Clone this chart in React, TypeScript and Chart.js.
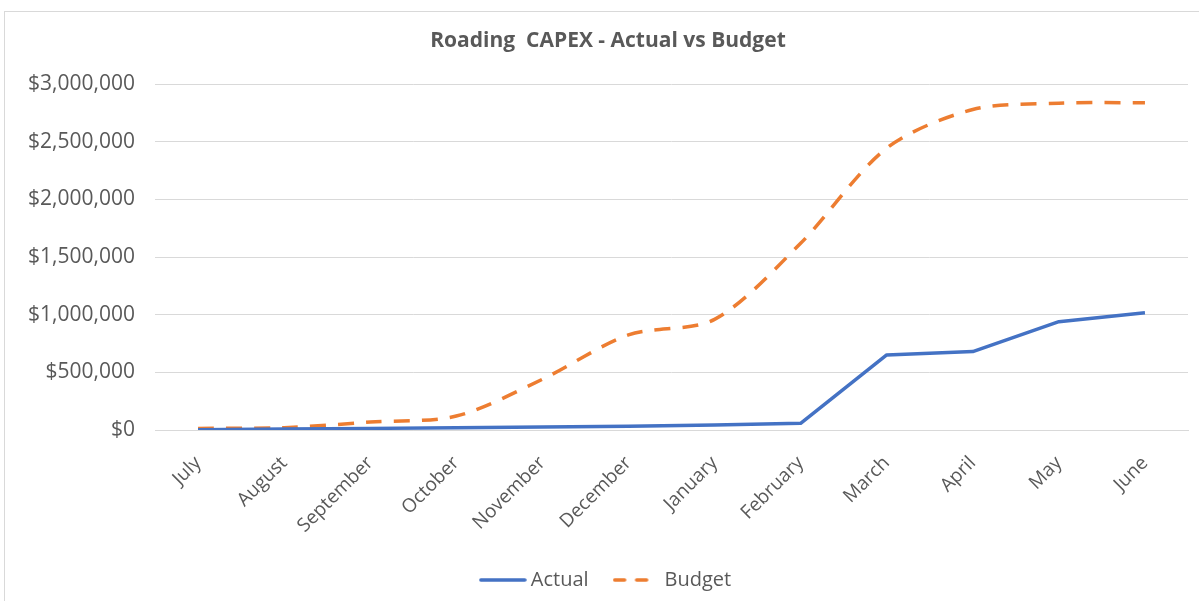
import React, { useEffect, useRef } from "react";
import { Chart, registerables } from "chart.js";

Chart.register(...registerables);

const months = ["July", "August", "September", "October", "November", "December", "January", "February", "March", "April", "May", "June"];
const actualValues = [3000, 8000, 14000, 20000, 25000, 32000, 43000, 58000, 651000, 680000, 940000, 1017000];
const budgetValues = [14000, 20000, 69000, 121000, 440000, 825000, 960000, 1620000, 2445000, 2780000, 2835000, 2840000];
const yTicks = [0, 500000, 1000000, 1500000, 2000000, 2500000, 3000000];

const BLUE = "#4472C4";
const ORANGE = "#ED7D31";
const TEXT = "#595959";
const GRID = "#d9d9d9";
const FONT = "'Open Sans', 'Noto Sans', sans-serif";

function makeLegendLine(color: string, dash: number[]): HTMLCanvasElement {
  const c = document.createElement("canvas");
  c.width = 48;
  c.height = 6;
  const g = c.getContext("2d")!;
  g.strokeStyle = color;
  g.lineWidth = 3.5;
  g.lineCap = "round";
  g.setLineDash(dash);
  g.beginPath();
  g.moveTo(2, 3);
  g.lineTo(46, 3);
  g.stroke();
  return c;
}

function fmt(v: number): string {
  return "$" + v.toLocaleString("en-US");
}

export default function App() {
  const ref = useRef<HTMLCanvasElement | null>(null);

  useEffect(() => {
    if (!ref.current) return;
    const actualIcon = makeLegendLine(BLUE, []);
    const budgetIcon = makeLegendLine(ORANGE, [10, 12]);
    const chart = new Chart(ref.current, {
      type: "line",
      data: {
        labels: months,
        datasets: [
          {
            label: "Actual",
            data: actualValues,
            borderColor: BLUE,
            backgroundColor: BLUE,
            borderWidth: 3.5,
            pointRadius: 0,
            tension: 0,
            borderJoinStyle: "round",
          },
          {
            label: "Budget",
            data: budgetValues,
            borderColor: ORANGE,
            backgroundColor: ORANGE,
            borderWidth: 3.5,
            borderDash: [16, 12],
            pointRadius: 0,
            tension: 0.3,
          },
        ],
      },
      options: {
        responsive: false,
        animation: false,
        layout: { padding: { left: 28, right: 11, top: 0, bottom: 1 } },
        plugins: {
          title: {
            display: true,
            text: "Roading  CAPEX - Actual vs Budget",
            color: TEXT,
            font: { family: FONT, size: 21, weight: "bold", lineHeight: 1.2 },
            padding: { top: 28, bottom: 31 },
          },
          legend: {
            display: true,
            position: "bottom",
            labels: {
              color: TEXT,
              font: { family: FONT, size: 20 },
              usePointStyle: true,
              pointStyleWidth: 36,
              padding: 30,
              generateLabels: (ch: any) => {
                const items = Chart.defaults.plugins.legend.labels.generateLabels(ch);
                items.forEach((it: any, i: number) => {
                  it.pointStyle = i === 0 ? actualIcon : budgetIcon;
                });
                return items;
              },
            },
          },
          tooltip: { enabled: false },
        },
        scales: {
          x: {
            offset: true,
            grid: { display: false, drawTicks: false },
            border: { display: true, color: GRID, width: 1 },
            ticks: {
              color: TEXT,
              font: { family: FONT, size: 19 },
              maxRotation: 45,
              minRotation: 45,
              padding: 22,
              autoSkip: false,
            },
            afterFit: (s: any) => {
              s.height = 110;
            },
          },
          y: {
            min: 0,
            max: 3000000,
            grid: { color: GRID, lineWidth: 1, drawTicks: false },
            border: { display: false },
            afterBuildTicks: (s: any) => {
              s.ticks = yTicks.map((v) => ({ value: v }));
            },
            ticks: {
              color: TEXT,
              font: { family: FONT, size: 21 },
              padding: 20,
              callback: (v: any) => fmt(Number(v)),
            },
            afterFit: (s: any) => {
              s.width = 127;
            },
          },
        },
      },
    });
    return () => chart.destroy();
  }, []);

  return (
    <div style={{ position: "fixed", left: 0, top: 0, width: 1199, height: 601, background: "#fff" }}>
      <div
        style={{
          position: "absolute",
          left: 4,
          top: 11,
          right: 0,
          bottom: 0,
          borderLeft: "1px solid #d9d9d9",
          borderTop: "1px solid #d9d9d9",
        }}
      />
      <canvas ref={ref} width={1199} height={601} style={{ position: "absolute", left: 0, top: 0 }} />
    </div>
  );
}
